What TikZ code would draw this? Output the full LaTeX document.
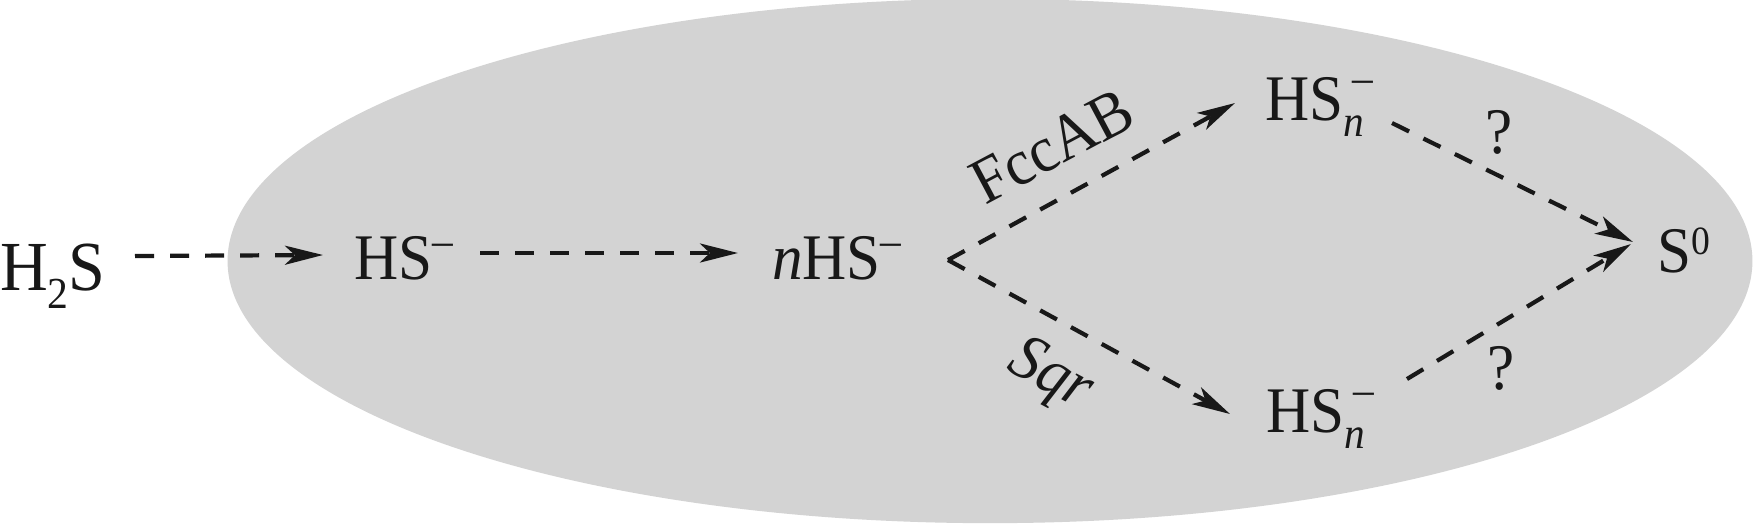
\documentclass[tikz,border=0pt]{standalone}
\usepackage{fontspec}
\setmainfont[FakeStretch=0.94]{Liberation Serif}
\usetikzlibrary{arrows.meta,calc}
\definecolor{ellgray}{RGB}{211,211,211}
\definecolor{ink}{RGB}{24,24,24}
\newcommand\lowsub[2]{\raisebox{-#1}{\fontsize{12.5}{14}\selectfont #2}}
\newcommand\highsup[2]{\raisebox{#1}{\fontsize{12.5}{14}\selectfont #2}}
\begin{document}
\begin{tikzpicture}[x=0.01cm,y=-0.01cm,
  lbl/.style={inner sep=0pt, outer sep=0pt, anchor=base west, text=ink,
    font=\fontsize{18.5}{22}\selectfont},
  qlbl/.style={lbl, anchor=base},
  enzyme/.style={inner sep=0pt, outer sep=0pt, text=ink,
    font=\fontsize{18.5}{22}\selectfont},
  arr/.style={draw=ink, line width=1.2pt, dash pattern=on 0.19cm off 0.16cm,
    -{Stealth[length=0.38cm,width=0.19cm,inset=0.1cm]}}]
\useasboundingbox (0,0) rectangle (1753,523);
\begin{scope}
  \clip (0,0) rectangle (1753,523);
  \fill[ellgray] (990,261) ellipse [x radius=7.62cm, y radius=2.62cm];
\end{scope}
% species
\node[lbl, font=\fontsize{20}{24}\selectfont] (h2s) at (0,290)
  {H\raisebox{-0.18cm}{\fontsize{12.6}{14}\selectfont 2}S};
\node[lbl] (hs) at (354,279) {HS\highsup{0.24cm}{–}};
\node[lbl] (nhs) at (772,279) {\textit{n}HS\highsup{0.24cm}{–}};
\node[lbl] (hsn1) at (1265,120)
  {HS\rlap{\hspace{0.09cm}\highsup{0.27cm}{–}}\lowsub{0.16cm}{\textit{n}}};
\node[lbl] (hsn2) at (1266,432)
  {HS\rlap{\hspace{0.09cm}\highsup{0.27cm}{–}}\lowsub{0.16cm}{\textit{n}}};
\node[lbl] (s0) at (1657,272)
  {S\raisebox{0.18cm}{\fontsize{11.4}{13}\selectfont 0}};
% labels
\node[enzyme, rotate=28] (fcc) at (1052,146) {FccAB};
\node[enzyme, rotate=-28] (sqr) at (1050,377) {\textit{Sqr}};
\node[qlbl] (q1) at (1499,153) {?};
\node[qlbl] (q2) at (1501,389) {?};
% connectors
\coordinate (fork) at ($(nhs.base west)+(176,-19)$);
\draw[arr] ($(h2s.base west)+(135,-34)$) -- ($(hs.base west)+(-31,-24)$);
\draw[arr] ($(hs.base west)+(126,-26)$) -- ($(nhs.base west)+(-34,-26)$);
\draw[arr] (fork) -- ($(hsn1.base west)+(-30,-17)$);
\draw[arr] (fork) -- ($(hsn2.base west)+(-36,-18)$);
\draw[arr] ($(hsn1.base west)+(127,3)$) -- ($(s0.base west)+(-24,-30)$);
\draw[arr] ($(hsn2.base west)+(141,-53)$) -- ($(s0.base west)+(-26,-28)$);
\end{tikzpicture}
\end{document}
